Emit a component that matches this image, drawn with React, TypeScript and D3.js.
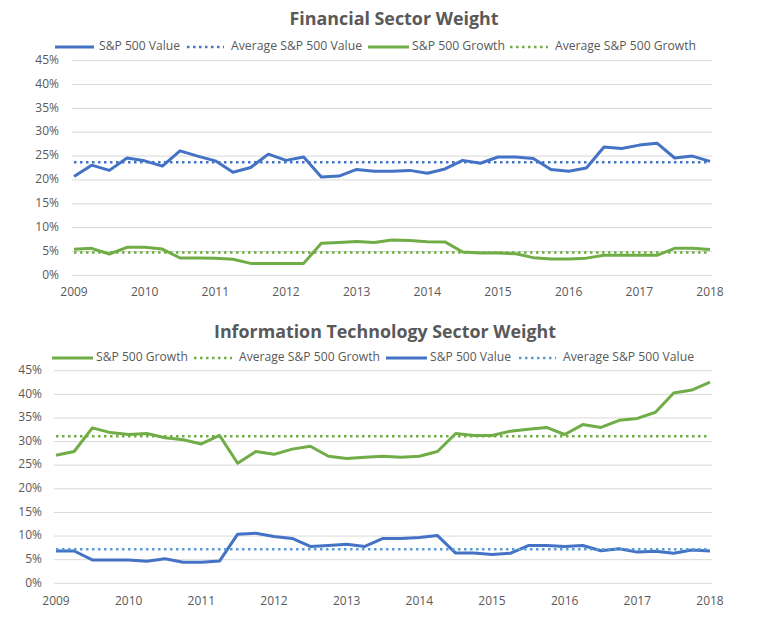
import { useRef, useEffect } from "react";
import * as d3 from "d3";

// Quarterly observations, 2009 Q1 .. 2018 Q1
const years = [2009, 2010, 2011, 2012, 2013, 2014, 2015, 2016, 2017, 2018];
const quarters = years
  .flatMap((y) => ["Q1", "Q2", "Q3", "Q4"].map((q) => `${y} ${q}`))
  .slice(0, 37);
const yTicks = [0, 5, 10, 15, 20, 25, 30, 35, 40, 45];

// Financial sector weight (%)
const finValue = [
  20.7, 23.1, 22.0, 24.6, 24.0, 22.9, 26.1, 25.0, 24.0, 21.6, 22.6, 25.4, 24.1,
  24.8, 20.6, 20.8, 22.2, 21.8, 21.8, 22.0, 21.4, 22.3, 24.1, 23.5, 24.8, 24.8,
  24.5, 22.2, 21.8, 22.5, 26.9, 26.6, 27.3, 27.7, 24.6, 25.0, 23.9,
];
const finGrowth = [
  5.45, 5.66, 4.47, 5.87, 5.87, 5.5, 3.63, 3.63, 3.6, 3.35, 2.5, 2.5, 2.5, 2.5,
  6.7, 6.9, 7.1, 6.9, 7.4, 7.3, 7.05, 7.0, 4.9, 4.7, 4.7, 4.5, 3.7, 3.4, 3.4,
  3.6, 4.2, 4.2, 4.2, 4.2, 5.66, 5.66, 5.4,
];
const finValueAvg = 23.7;
const finGrowthAvg = 4.8;

// Information technology sector weight (%)
const itGrowth = [
  27.1, 27.9, 32.9, 31.9, 31.5, 31.7, 30.8, 30.4, 29.5, 31.3, 25.4, 27.9, 27.3,
  28.4, 29.0, 26.9, 26.4, 26.7, 26.9, 26.7, 26.9, 27.9, 31.7, 31.3, 31.3, 32.2,
  32.6, 33.0, 31.5, 33.6, 33.0, 34.5, 34.9, 36.2, 40.3, 40.9, 42.6,
];
const itValue = [
  6.84, 6.84, 4.94, 4.94, 4.94, 4.65, 5.2, 4.44, 4.44, 4.7, 10.4, 10.6, 9.9, 9.5,
  7.8, 8.0, 8.25, 7.8, 9.5, 9.5, 9.7, 10.1, 6.4, 6.4, 6.1, 6.35, 8.0, 8.0, 7.8,
  8.0, 6.9, 7.3, 6.6, 6.8, 6.35, 7.05, 6.84,
];
const itGrowthAvg = 31.1;
const itValueAvg = 7.2;

const BLUE = "#4472C4";
const LIGHT_BLUE = "#5B9BD5";
const GREEN = "#70AD47";
const TEXT = "#595959";
const GRID = "#D9D9D9";
const FONT = "'Open Sans', 'Noto Sans', sans-serif";

type Series = {
  name: string;
  color: string;
  values?: number[];
  avg?: number;
  textWidth: number;
  legend: [number, number, number]; // line start, line end, text start
};

type PanelSpec = {
  title: string;
  titleWidth: number;
  titleY: number;
  legendY: number;
  gridLeft: number;
  gridRight: number;
  x0: number;
  x1: number;
  yZero: number;
  yTop: number;
  tickRight: number;
  xLabelY: number;
  series: Series[];
};

const panels: PanelSpec[] = [
  {
    title: "Financial Sector Weight",
    titleWidth: 209,
    titleY: 20,
    legendY: 47,
    gridLeft: 72,
    gridRight: 712,
    x0: 74,
    x1: 710,
    yZero: 275.3,
    yTop: 60.7,
    tickRight: 59,
    xLabelY: 293,
    series: [
      { name: "S&P 500 Value", color: BLUE, values: finValue, textWidth: 81, legend: [55, 94, 99] },
      { name: "Average S&P 500 Value", color: BLUE, avg: finValueAvg, textWidth: 131, legend: [187, 224, 231] },
      { name: "S&P 500 Growth", color: GREEN, values: finGrowth, textWidth: 93, legend: [368, 409, 412] },
      { name: "Average S&P 500 Growth", color: GREEN, avg: finGrowthAvg, textWidth: 141, legend: [510, 548, 555] },
    ],
  },
  {
    title: "Information Technology Sector Weight",
    titleWidth: 342,
    titleY: 333.5,
    legendY: 358,
    gridLeft: 54,
    gridRight: 712,
    x0: 56,
    x1: 710,
    yZero: 583.3,
    yTop: 370.7,
    tickRight: 42,
    xLabelY: 602,
    series: [
      { name: "S&P 500 Growth", color: GREEN, values: itGrowth, textWidth: 92, legend: [52, 93, 96] },
      { name: "Average S&P 500 Growth", color: GREEN, avg: itGrowthAvg, textWidth: 141, legend: [194, 232, 239] },
      { name: "S&P 500 Value", color: BLUE, values: itValue, textWidth: 81, legend: [386, 427, 430] },
      { name: "Average S&P 500 Value", color: LIGHT_BLUE, avg: itValueAvg, textWidth: 131, legend: [519, 556, 563] },
    ],
  },
];

function drawPanel(svg: d3.Selection<SVGSVGElement, unknown, null, undefined>, p: PanelSpec) {
  const g = svg.append("g");
  const x = d3.scalePoint<string>().domain(quarters).range([p.x0, p.x1]);
  const y = d3.scaleLinear().domain([0, 45]).range([p.yZero, p.yTop]);

  // Title
  g.append("text")
    .attr("x", (p.gridLeft + p.gridRight) / 2 + 2)
    .attr("y", p.titleY)
    .attr("text-anchor", "middle")
    .attr("dominant-baseline", "middle")
    .attr("font-size", 18)
    .attr("font-weight", "bold")
    .attr("fill", TEXT)
    .attr("textLength", p.titleWidth)
    .attr("lengthAdjust", "spacingAndGlyphs")
    .text(p.title);

  // Gridlines + y labels
  g.append("g")
    .selectAll("line")
    .data(yTicks)
    .join("line")
    .attr("x1", p.gridLeft)
    .attr("x2", p.gridRight)
    .attr("y1", (d) => y(d))
    .attr("y2", (d) => y(d))
    .attr("stroke", GRID)
    .attr("stroke-width", 1);

  g.append("g")
    .selectAll("text")
    .data(yTicks)
    .join("text")
    .attr("x", p.tickRight)
    .attr("y", (d) => y(d))
    .attr("text-anchor", "end")
    .attr("dominant-baseline", "middle")
    .attr("font-size", 12)
    .attr("fill", TEXT)
    .text((d) => `${d}%`);

  // Year labels every 4 quarters
  g.append("g")
    .selectAll("text")
    .data(quarters.filter((_, i) => i % 4 === 0))
    .join("text")
    .attr("x", (d) => x(d) as number)
    .attr("y", p.xLabelY)
    .attr("text-anchor", "middle")
    .attr("dominant-baseline", "middle")
    .attr("font-size", 12)
    .attr("fill", TEXT)
    .text((d) => d.slice(0, 4));

  // Series
  const line = d3
    .line<number>()
    .x((_, i) => x(quarters[i]) as number)
    .y((d) => y(d));

  p.series.forEach((s) => {
    if (s.values) {
      g.append("path")
        .attr("d", line(s.values))
        .attr("fill", "none")
        .attr("stroke", s.color)
        .attr("stroke-width", 3)
        .attr("stroke-linejoin", "round");
    } else if (s.avg !== undefined) {
      g.append("line")
        .attr("x1", x(quarters[0]) as number)
        .attr("x2", x(quarters[quarters.length - 1]) as number)
        .attr("y1", y(s.avg))
        .attr("y2", y(s.avg))
        .attr("stroke", s.color)
        .attr("stroke-width", 2.5)
        .attr("stroke-dasharray", "2.5 3.5");
    }
  });

  // Legend
  const leg = g.append("g");
  p.series.forEach((s) => {
    leg.append("line")
      .attr("x1", s.legend[0])
      .attr("x2", s.legend[1])
      .attr("y1", p.legendY)
      .attr("y2", p.legendY)
      .attr("stroke", s.color)
      .attr("stroke-width", s.values ? 3 : 2.5)
      .attr("stroke-dasharray", s.values ? null : "2.5 3.5");
    leg.append("text")
      .attr("x", s.legend[2])
      .attr("y", p.legendY)
      .attr("dominant-baseline", "middle")
      .attr("font-size", 12)
      .attr("fill", TEXT)
      .attr("textLength", s.textWidth)
      .attr("lengthAdjust", "spacingAndGlyphs")
      .text(s.name);
  });
}

export default function App() {
  const ref = useRef<SVGSVGElement>(null);

  useEffect(() => {
    if (!ref.current) return;
    const svg = d3.select(ref.current);
    svg.selectAll("*").remove();
    panels.forEach((p) => drawPanel(svg, p));
  }, []);

  return (
    <svg
      ref={ref}
      width={784}
      height={618}
      style={{ position: "absolute", left: 0, top: 0, background: "#fff", fontFamily: FONT }}
    />
  );
}
